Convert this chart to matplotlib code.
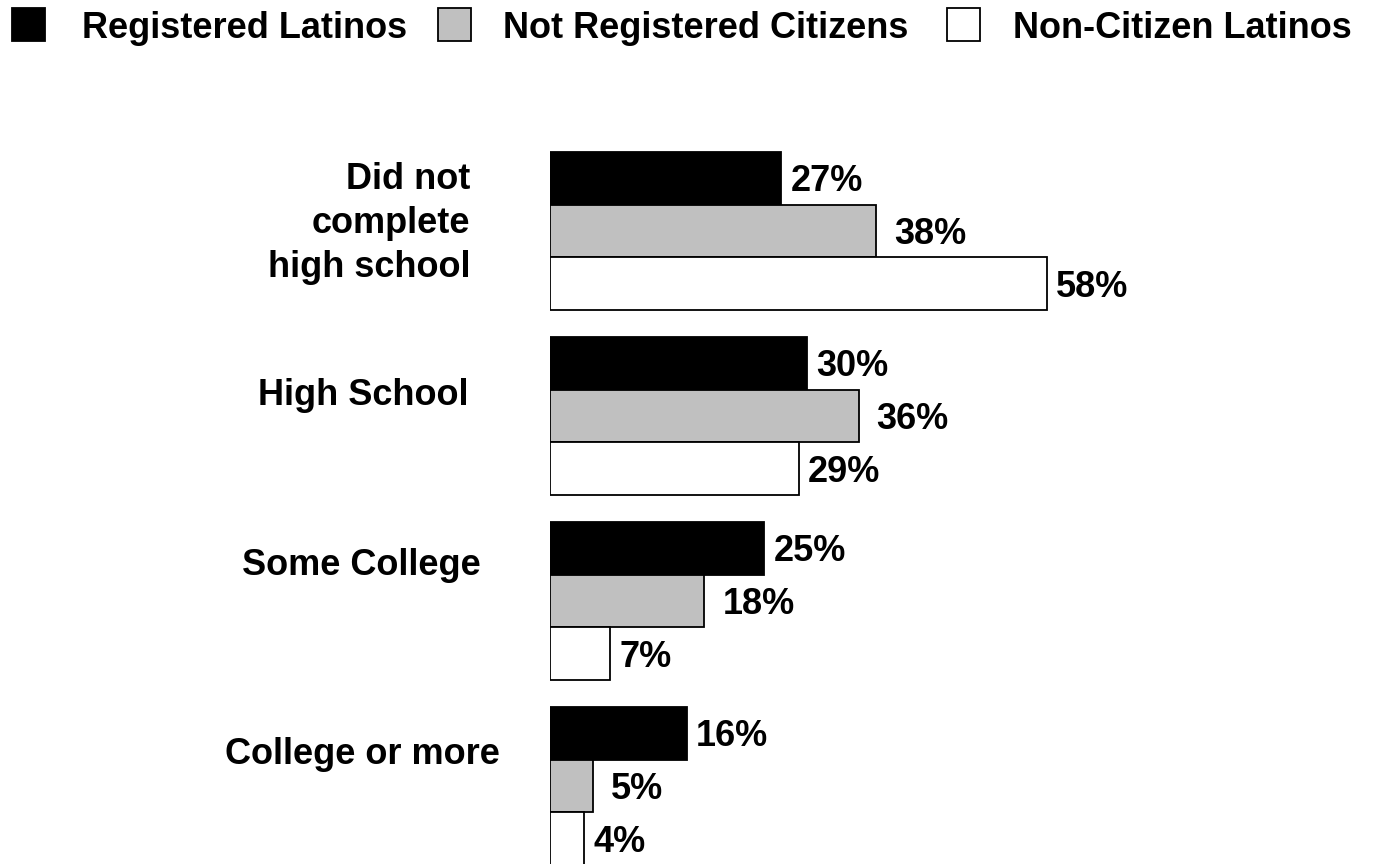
import numpy as np
import matplotlib
matplotlib.use("Agg")
import matplotlib.pyplot as plt
import matplotlib.transforms as mtransforms
from matplotlib.patches import Rectangle

plt.rcParams["font.family"] = ["Liberation Sans", "DejaVu Sans"]
plt.rcParams["font.weight"] = "bold"

# ── Data ──────────────────────────────────────────────────────────────────────
CATEGORIES = ["Did not\ncomplete\nhigh school", "High School",
              "Some College", "College or more"]
SERIES     = ["Registered Latinos", "Not Registered Citizens",
              "Non-Citizen Latinos"]
registered     = [27, 30, 25, 16]
not_registered = [38, 36, 18, 5]
non_citizen    = [58, 29, 7, 4]
VALUES = [registered, not_registered, non_citizen]

# ── Style ─────────────────────────────────────────────────────────────────────
COLORS    = ["#000000", "#C0C0C0", "#FFFFFF"]
LABEL_GAP = [6.5, 13.0, 6.5]          # points, value label offset per series
W, H      = 1380, 864                  # px
BAR_H     = 0.285                      # in units of group spacing

fig = plt.figure(figsize=(W / 100, H / 100), dpi=100, facecolor="white")
ax = fig.add_axes([550 / W, 0, 1 - 550 / W, 1])
ax.set_xlim(0, 830 / 8.57)
ax.set_ylim((H - 231) / 185, -231 / 185)
ax.axis("off")

y = np.arange(len(CATEGORIES))
for i, (vals, col) in enumerate(zip(VALUES, COLORS)):
    yy = y + (i - 1) * BAR_H
    ax.barh(yy, vals, height=BAR_H, color=col, edgecolor="black",
            linewidth=1.3, zorder=2)
    for v, yc in zip(vals, yy):
        ax.annotate(f"{v}%", (v, yc), xytext=(LABEL_GAP[i], -2.5),
                    textcoords="offset points", ha="left", va="center",
                    fontsize=26, fontweight="bold")

# category labels (figure-x, data-y)
trans = mtransforms.blended_transform_factory(fig.transFigure, ax.transData)
lab_x  = [470, 363, 361, 362]
lab_ha = ["right", "center", "center", "center"]
lab_dy = [-0.04, -0.11, -0.19, -0.17]
for k, cat in enumerate(CATEGORIES):
    ax.text(lab_x[k] / W, y[k] + lab_dy[k], cat, transform=trans,
            ha=lab_ha[k], va="center", fontsize=26, fontweight="bold",
            multialignment="right", linespacing=1.32)

# ── Legend (top row) ─────────────────────────────────────────────────────────
box_x  = [12, 438, 947]
text_x = [82, 503, 1013]
for name, col, bx, tx in zip(SERIES, COLORS, box_x, text_x):
    fig.add_artist(Rectangle((bx / W, 1 - 41 / H), 33 / W, 33 / H,
                             transform=fig.transFigure, facecolor=col,
                             edgecolor="black", linewidth=1.3))
    fig.text(tx / W, 1 - 29 / H, name, ha="left", va="center",
             fontsize=26, fontweight="bold")

fig.savefig("out.png", dpi=100, facecolor="white")
plt.close(fig)
